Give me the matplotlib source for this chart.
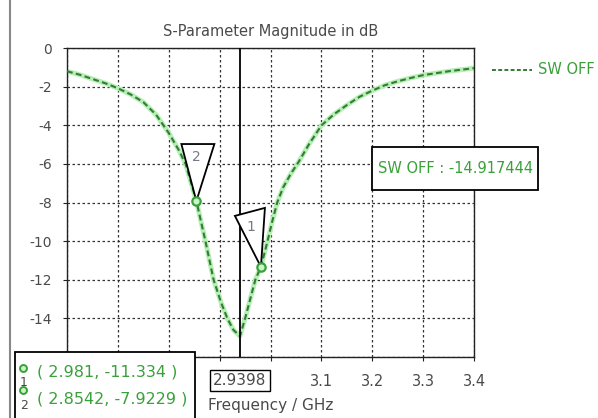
import matplotlib.pyplot as plt
from matplotlib.patches import Polygon, Rectangle
from matplotlib.lines import Line2D

# S11 curve for "SW OFF"
freq_ghz = [2.600, 2.625, 2.650, 2.675, 2.700, 2.725, 2.750, 2.775, 2.800,
            2.820, 2.833, 2.8542, 2.872, 2.888, 2.903, 2.915, 2.927, 2.9398,
            2.950, 2.960, 2.970, 2.981, 2.994, 3.003, 3.013, 3.025, 3.040,
            3.055, 3.075, 3.100, 3.125, 3.150, 3.175, 3.200, 3.225, 3.250,
            3.275, 3.300, 3.350, 3.400]
s11_db = [-1.20, -1.38, -1.60, -1.82, -2.08, -2.40, -2.80, -3.45, -4.40,
          -5.30, -6.00, -7.92, -10.0, -12.0, -13.2, -14.0, -14.6, -14.92,
          -14.0, -13.0, -12.0, -11.33, -10.0, -9.0, -8.0, -7.2, -6.5,
          -5.9, -5.0, -4.0, -3.42, -2.95, -2.52, -2.20, -1.92, -1.72,
          -1.55, -1.40, -1.20, -1.04]

marker_ids = ["1", "2"]
marker_f = [2.981, 2.8542]
marker_db = [-11.334, -7.9229]
cursor_f = 2.9398
min_label = "SW OFF : -14.917444"

x_ticks = [2.6, 2.7, 2.8, 2.9, 3.0, 3.1, 3.2, 3.3, 3.4]
x_ticklabels = ["", "", "", "", "", "3.1", "3.2", "3.3", "3.4"]
y_ticks = [0, -2, -4, -6, -8, -10, -12, -14, -16]
y_ticklabels = ["0", "-2", "-4", "-6", "-8", "-10", "-12", "-14", ""]

dark_green = "#357a35"
light_green = "#b4efb4"
text_green = "#3aa03a"
text_gray = "#4a4a4a"

fig = plt.figure(figsize=(5.98, 4.18), dpi=100)
ax = fig.add_axes([0.112, 0.146, 0.681, 0.739])

ax.plot(freq_ghz, s11_db, color=light_green, lw=3.5, zorder=2)
ax.plot(freq_ghz, s11_db, color=dark_green, lw=1.5, ls=(0, (2.8, 1.6)), zorder=3)

ax.set_xlim(2.6, 3.4)
ax.set_ylim(-16, 0)
ax.set_xticks(x_ticks)
ax.set_xticklabels(x_ticklabels)
ax.set_yticks(y_ticks)
ax.set_yticklabels(y_ticklabels)
ax.tick_params(labelsize=10.5, labelcolor=text_gray, length=3, color="#222222")
ax.tick_params(axis="x", pad=9)
ax.tick_params(axis="y", pad=8, labelsize=10)
ax.grid(True, color="#333333", ls=(0, (2, 2)), lw=0.9)
for sp in ax.spines.values():
    sp.set_color("#222222")
    sp.set_linewidth(1.0)

ax.set_title("S-Parameter Magnitude in dB", fontsize=10.5, color=text_gray, pad=9)
ax.set_xlabel("Frequency / GHz", fontsize=11, color=text_gray, labelpad=7)

# cursor line with its readout
ax.axvline(cursor_f, color="black", lw=1.3, zorder=4)
ax.annotate(f"{cursor_f:.4f}", xy=(cursor_f, 0), xycoords=("data", "axes fraction"),
            xytext=(0, -17), textcoords="offset points", ha="center", va="center",
            fontsize=11, color=text_gray,
            bbox=dict(boxstyle="square,pad=0.2", fc="white", ec="black", lw=1.0),
            annotation_clip=False)

# markers with triangle flags (offsets in pixels)
tri_shapes = {"1": [(0, 0), (-26, 51), (4, 59)],
              "2": [(0, 0), (-15, 57), (18, 57)]}
tri_labels = {"1": (-10, 40), "2": (0, 44)}
for mid, mf, md in zip(marker_ids, marker_f, marker_db):
    base = ax.transData.transform((mf, md))
    verts = [(base[0] + dx, base[1] + dy) for dx, dy in tri_shapes[mid]]
    ax.add_patch(Polygon(verts, closed=True, fc="white", ec="black",
                         lw=1.3, transform=None, zorder=5))
    lx, ly = tri_labels[mid]
    ax.text(base[0] + lx, base[1] + ly, mid, transform=None, ha="center",
            va="center", fontsize=10, color="#777788", zorder=6)
    ax.plot([mf], [md], "o", ms=6, mfc="#c8f5c8", mec="#3aa03a", mew=1.6, zorder=7)

# minimum readout box
ax.add_patch(Rectangle((0.749, 0.540), 0.408, 0.140, transform=ax.transAxes,
                       fc="white", ec="black", lw=1.3, clip_on=False, zorder=8))
ax.text(0.953, 0.610, min_label, transform=ax.transAxes, ha="center", va="center",
        fontsize=10.5, color=text_green, zorder=9, clip_on=False)

# legend outside at top right
fig.add_artist(Line2D([0.823, 0.89], [0.833, 0.833], color=dark_green, lw=1.4,
                      ls=(0, (2, 1.2))))
fig.text(0.9, 0.833, "SW OFF", color=text_green, fontsize=10.5, va="center")

# marker table bottom-left
fig.add_artist(Rectangle((0.025, -0.01), 0.301, 0.168, transform=fig.transFigure,
                         fc="white", ec="black", lw=1.3, zorder=10))
icon_y = [0.120, 0.067]
num_y = [0.084, 0.029]
row_y = [0.110, 0.045]
for mid, mf, md, iy, ny, ry in zip(marker_ids, marker_f, marker_db, icon_y, num_y, row_y):
    fig.add_artist(Line2D([0.039], [iy], marker="o", ms=5, mfc="#c8f5c8",
                          mec="#3aa03a", mew=1.4, ls="none", zorder=11))
    fig.text(0.040, ny, mid, fontsize=9, color=text_gray, ha="center",
             va="center", zorder=11)
    fig.text(0.062, ry, f"( {mf:g}, {md:g} )", fontsize=11.5, color=text_green,
             va="center", zorder=11)

# window frame edge on the left
fig.add_artist(Line2D([0.016, 0.016], [0.0, 1.0], color="#888888", lw=1.5))

fig.savefig("out.png", dpi=100)
